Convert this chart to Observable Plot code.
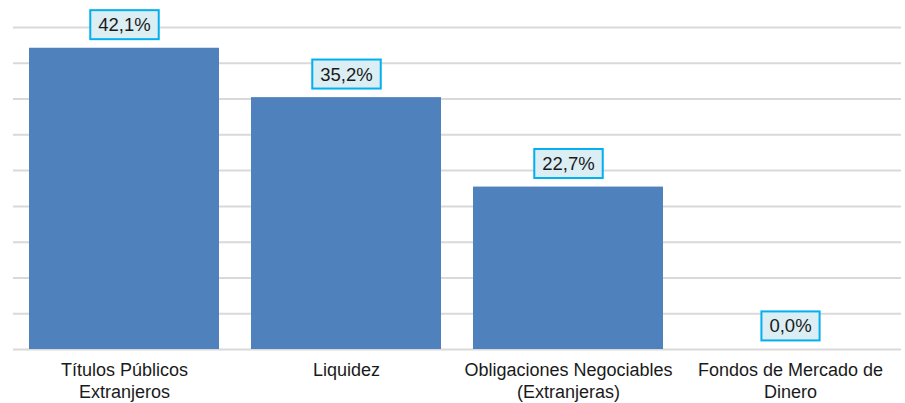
<!DOCTYPE html>
<html>
<head>
<meta charset="utf-8">
<script src="https://cdn.jsdelivr.net/npm/d3@7"></script>
<script src="https://cdn.jsdelivr.net/npm/@observablehq/plot@0.6"></script>
<style>
  html, body { margin: 0; padding: 0; background: #ffffff; }
  #chart { width: 905px; height: 403px; }
</style>
</head>
<body>
<div id="chart"></div>
<script>
const categories = ["Títulos Públicos Extranjeros", "Liquidez", "Obligaciones Negociables (Extranjeras)", "Fondos de Mercado de Dinero"];
const categoryLabels = ["Títulos Públicos\nExtranjeros", "Liquidez", "Obligaciones Negociables\n(Extranjeras)", "Fondos de Mercado de\nDinero"];
const values = [42.1, 35.2, 22.7, 0.0];
const yTicks = [0, 5, 10, 15, 20, 25, 30, 35, 40, 45];

const data = categories.map((c, i) => ({category: c, value: values[i]}));
const labelOf = new Map(categories.map((c, i) => [c, categoryLabels[i]]));
const fmt = v => v.toFixed(1).replace(".", ",") + "%";

const chart = Plot.plot({
  width: 905,
  height: 403,
  marginLeft: 13,
  marginRight: 4,
  marginTop: 27,
  marginBottom: 54,
  style: {fontFamily: "'Liberation Sans', Arial, sans-serif", background: "#ffffff", color: "#1a1a1a"},
  x: {domain: categories, paddingInner: 0.144, paddingOuter: 0.072, label: null},
  y: {domain: [0, 45], label: null, axis: null},
  marks: [
    Plot.ruleY(yTicks, {stroke: "#d9d9d9", strokeWidth: 2}),
    Plot.barY(data, {x: "category", y: "value", fill: "#4F81BD"}),
    Plot.text(data, {x: "category", y: "value", text: d => fmt(d.value), dy: -23, lineAnchor: "middle", fontSize: 18.5, fill: "#1a1a1a", className: "vlabel"}),
    Plot.axisX({tickSize: 0, tickPadding: 12, fontSize: 18, lineHeight: 1.17, lineAnchor: "top", tickFormat: c => labelOf.get(c), label: null, fill: "#1a1a1a"})
  ]
});
document.getElementById("chart").append(chart);

// draw the label boxes behind each value label
d3.select(chart).selectAll(".vlabel text").each(function() {
  const b = this.getBBox();
  const padX = 8, padY = 4;
  d3.select(this.parentNode).insert("rect", () => this)
    .attr("x", b.x - padX).attr("y", b.y - padY)
    .attr("width", b.width + 2 * padX).attr("height", b.height + 2 * padY)
    .attr("transform", this.getAttribute("transform"))
    .attr("fill", "#DAEEF3").attr("stroke", "#00B0F0").attr("stroke-width", 2);
});
</script>
</body>
</html>
